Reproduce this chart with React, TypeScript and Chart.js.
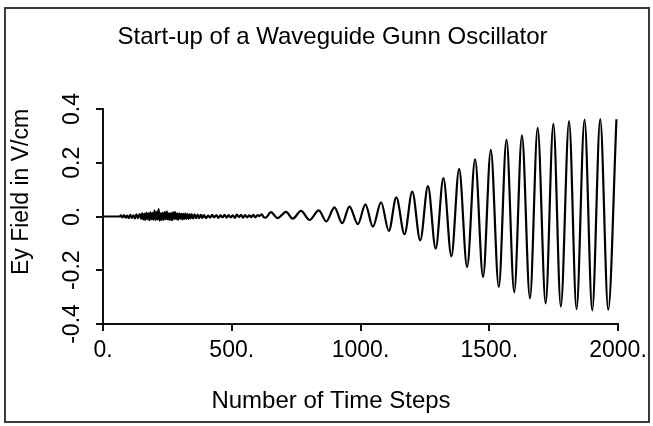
import { useEffect, useRef } from 'react';
import { Chart, registerables } from 'chart.js';

Chart.register(...registerables);

const chartTitle = 'Start-up of a Waveguide Gunn Oscillator';
const xAxisTitle = 'Number of Time Steps';
const yAxisTitle = 'Ey Field in V/cm';
const xTickLabels = ['0.', '500.', '1000.', '1500.', '2000.'];
const yTickLabels = ['-0.4', '-0.2', '0.', '0.2', '0.4'];

// early noisy start-up region
const noiseSteps = [
  0, 64, 70, 76, 82, 88, 94, 100, 106, 112, 118, 124, 130, 136, 142, 148,
  152, 156, 160, 164, 168, 172, 176, 180, 184, 188, 192, 196, 200, 204, 208, 212,
  216, 220, 224, 228, 232, 236, 240, 244, 248, 252, 256, 260, 264, 268, 272, 276,
  280, 284, 288, 292, 296, 300, 304, 308, 312, 316, 320, 324, 328, 332, 336, 340,
  344, 350, 356, 362, 368, 374, 380, 386, 392, 400, 408, 416, 424, 432, 440, 448,
  456, 464, 472, 480, 488, 496, 504, 512, 520, 528, 536, 544, 552, 560, 568, 576,
  584, 592, 600, 608, 616, 624, 632,
];
const noiseField = [
  0, 0, 0.004, -0.003, 0.005, -0.004, 0.003, -0.006, 0.006, -0.005, 0.004, -0.007, 0.008, -0.006, 0.009, -0.008,
  0.012, -0.011, 0.01, -0.013, 0.014, -0.009, 0.012, -0.014, 0.015, -0.01, 0.013, -0.012, 0.022, -0.013, 0.016, -0.011,
  0.028, -0.015, 0.012, -0.013, 0.014, -0.012, 0.016, -0.01, 0.018, -0.011, 0.012, -0.013, 0.013, -0.014, 0.015, -0.009,
  0.016, -0.01, 0.011, -0.012, 0.012, -0.008, 0.01, -0.011, 0.01, -0.009, 0.011, -0.008, 0.009, -0.009, 0.008, -0.007,
  0.009, -0.007, 0.008, -0.006, 0.007, -0.006, 0.006, -0.005, 0.005, -0.006, 0.003, -0.004, 0.006, -0.003, 0.005, -0.005,
  0.004, -0.003, 0.006, -0.004, 0.005, -0.003, 0.004, -0.005, 0.007, -0.002, 0.006, -0.004, 0.005, -0.003, 0.004, -0.002,
  0.006, -0.003, 0.005, 0.002, 0.008, -0.002, -0.004,
];

// growing oscillation: alternating peaks and troughs
const waveSteps = [
  652, 678, 711, 737, 769, 802, 838, 867, 899, 929, 957, 990, 1019, 1048,
  1080, 1110, 1139, 1171, 1201, 1232, 1262, 1292, 1322, 1353, 1383, 1414,
  1445, 1476, 1506, 1537, 1567, 1597, 1627, 1658, 1688, 1719, 1749, 1778,
  1810, 1839, 1870, 1900, 1931, 1962, 1994,
];
const waveField = [
  0.016, -0.006, 0.017, -0.008, 0.021, -0.013, 0.023, -0.018, 0.034, -0.025, 0.037, -0.028, 0.045, -0.038,
  0.053, -0.054, 0.071, -0.066, 0.093, -0.089, 0.113, -0.12, 0.143, -0.148, 0.177, -0.188,
  0.213, -0.225, 0.248, -0.262, 0.286, -0.282, 0.302, -0.305, 0.33, -0.323, 0.345, -0.335,
  0.355, -0.345, 0.361, -0.349, 0.362, -0.347, 0.362,
];

const FONT_FAMILY = '"Liberation Sans", Arial, sans-serif';

// draws the two axis titles (centred like the reference, not on the plot area)
const axisTitlesPlugin = {
  id: 'axisTitles',
  afterDraw(chart: any) {
    const { ctx } = chart;
    ctx.save();
    ctx.fillStyle = '#000';
    ctx.textAlign = 'center';
    ctx.textBaseline = 'middle';
    ctx.font = `24px ${FONT_FAMILY}`;
    ctx.fillText(xAxisTitle, 331, 401);
    ctx.font = `23px ${FONT_FAMILY}`;
    ctx.translate(22, 192);
    ctx.rotate(-Math.PI / 2);
    ctx.fillText(yAxisTitle, 0, 0);
    ctx.restore();
  },
};

export default function App() {
  const ref = useRef<HTMLCanvasElement>(null);

  useEffect(() => {
    const steps = [...noiseSteps, ...waveSteps];
    const field = [...noiseField, ...waveField];
    const points = steps.map((x, i) => ({ x, y: field[i] }));
    const font = { family: FONT_FAMILY, size: 23 };

    const chart = new Chart(ref.current as HTMLCanvasElement, {
      type: 'line',
      data: {
        datasets: [
          {
            data: points,
            borderColor: '#000',
            borderWidth: 2.2,
            pointRadius: 0,
            cubicInterpolationMode: 'monotone',
            fill: false,
          },
        ],
      },
      options: {
        animation: false,
        responsive: false,
        devicePixelRatio: 1,
        layout: { padding: { left: 12, right: 0, top: 0, bottom: 0 } },
        plugins: {
          legend: { display: false },
          tooltip: { enabled: false },
          title: {
            display: true,
            text: chartTitle,
            color: '#000',
            font: { family: FONT_FAMILY, size: 24, weight: 'normal' },
            padding: { top: 23, bottom: 57.2 },
          },
        },
        scales: {
          x: {
            type: 'linear',
            min: 0,
            max: 2000,
            afterFit: (s: any) => {
              s.height = 102;
              s.paddingRight = 35;
            },
            ticks: {
              stepSize: 500,
              color: '#000',
              font,
              padding: 6,
              maxRotation: 0,
              callback: (_v: any, i: number) => xTickLabels[i],
            },
            grid: { drawOnChartArea: false, drawTicks: true, tickLength: 7, color: '#111', lineWidth: 2 },
            border: { color: '#111', width: 2 },
          },
          y: {
            type: 'linear',
            min: -0.4,
            max: 0.4,
            afterFit: (s: any) => {
              s.width = 91;
            },
            ticks: {
              stepSize: 0.2,
              color: '#000',
              font,
              padding: 4,
              minRotation: 90,
              maxRotation: 90,
              crossAlign: 'center',
              callback: (_v: any, i: number) => yTickLabels[i],
            },
            grid: { drawOnChartArea: false, drawTicks: true, tickLength: 7, color: '#111', lineWidth: 2 },
            border: { color: '#111', width: 2 },
          },
        },
      },
      plugins: [axisTitlesPlugin],
    } as any);
    return () => chart.destroy();
  }, []);

  return (
    <div style={{ position: 'fixed', left: 0, top: 0, width: 653, height: 426, background: '#fff' }}>
      <canvas ref={ref} width={653} height={426} style={{ display: 'block', width: 653, height: 426 }} />
      <div
        style={{
          position: 'absolute',
          left: 4,
          top: 7,
          width: 646,
          height: 416,
          boxSizing: 'border-box',
          border: '2px solid #3a3a3a',
          pointerEvents: 'none',
        }}
      />
    </div>
  );
}
